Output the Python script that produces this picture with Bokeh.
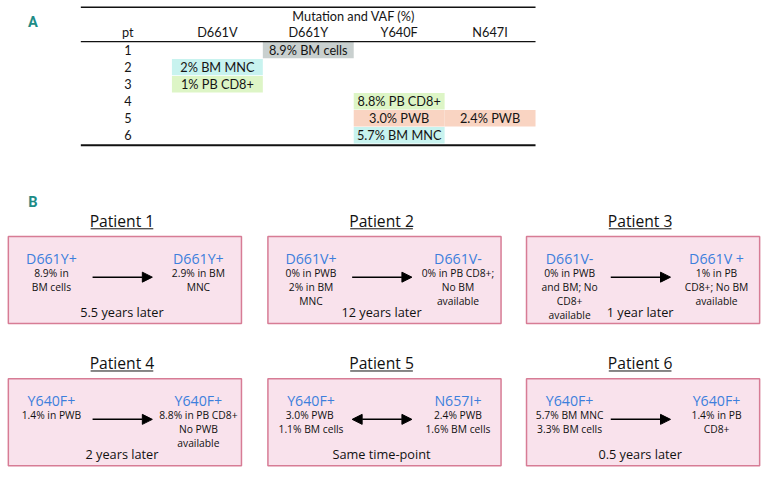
from bokeh.plotting import figure
from bokeh.models import Range1d, ColumnDataSource, Arrow, NormalHead
from bokeh.embed import file_html
from bokeh.resources import INLINE
from bokeh.core.properties import value

# ---------------- Panel A data ----------------
table_title = "Mutation and VAF (%)"
pt_header = "pt"
mutations = ["D661V", "D661Y", "Y640F", "N647I"]
patient_ids = ["1", "2", "3", "4", "5", "6"]
cell_pt = [1, 2, 3, 4, 5, 5, 6]
cell_mut = ["D661Y", "D661V", "D661V", "Y640F", "Y640F", "N647I", "Y640F"]
cell_text = ["8.9% BM cells", "2% BM MNC", "1% PB CD8+", "8.8% PB CD8+",
             "3.0% PWB", "2.4% PWB", "5.7% BM MNC"]
cell_sample = ["BM cells", "BM MNC", "PB CD8+", "PB CD8+", "PWB", "PWB", "BM MNC"]

# ---------------- Panel B data ----------------
panel_titles = ["Patient 1", "Patient 2", "Patient 3", "Patient 4", "Patient 5", "Patient 6"]
before_mut = ["D661Y+", "D661V+", "D661V-", "Y640F+", "Y640F+", "Y640F+"]
before_detail = [["8.9% in", "BM cells"],
                 ["0% in PWB", "2% in BM", "MNC"],
                 ["0% in PWB", "and BM; No", "CD8+", "available"],
                 ["1.4% in PWB"],
                 ["3.0%  PWB", "1.1% BM cells"],
                 ["5.7% BM MNC", "3.3% BM cells"]]
after_mut = ["D661Y+", "D661V-", "D661V +", "Y640F+", "N657I+", "Y640F+"]
after_detail = [["2.9% in BM", "MNC"],
                ["0% in PB CD8+;", "No BM", "available"],
                ["1% in PB", "CD8+; No BM", "available"],
                ["8.8% in PB CD8+", "No PWB", "available"],
                ["2.4% PWB", "1.6% BM cells"],
                ["1.4% in PB", "CD8+"]]
interval = ["5.5 years later", "12 years later", "1 year later",
            "2 years later", "Same time-point", "0.5 years later"]
bidirectional = [False, False, False, False, True, False]

# ---------------- styles ----------------
sample_colors = {"BM cells": "#c9d0cf", "BM MNC": "#c8f3ef",
                 "PB CD8+": "#ddf5c6", "PWB": "#f9d4c2"}
TEAL = "#1e8c86"
BLUE = "#3d7fdc"
BOX_FILL = "#f9e2ec"
BOX_LINE = "#d77c95"

W, H = 766, 474
REF_W, REF_H = 782, 490
S = W / REF_W

def fs(px):
    return f"{px * S:.2f}px"

p = figure(width=W, height=H, x_range=Range1d(0, REF_W), y_range=Range1d(REF_H, 0),
           output_backend="svg", toolbar_location=None, min_border=0)
p.axis.visible = False
p.grid.visible = False
p.outline_line_color = None
p.background_fill_color = "white"

# ---------------- Panel A layout ----------------
tab_x0 = 82
col_pt = 130
col_x0 = 175
col_w = 92.8
row_y0 = 42.5
row_h = 17.6
mut_index = {m: i for i, m in enumerate(mutations)}

def col_center(m):
    return col_x0 + col_w * (mut_index[m] + 0.5)

tab_x1 = col_x0 + col_w * len(mutations)

cx = [col_center(m) for m in cell_mut]
cy = [row_y0 + row_h * (k - 0.5) for k in cell_pt]
cells = ColumnDataSource(dict(x=cx, y=cy, text=cell_text,
                              color=[sample_colors[s] for s in cell_sample]))
p.rect(x="x", y="y", width=col_w, height=row_h - 0.6, fill_color="color",
       line_color=None, source=cells)

tfont = value("Lato")
TFS = fs(13)
TCOL = "#151515"
p.text(x="x", y="y", text="text", source=cells, text_align="center",
       text_baseline="middle", text_font=tfont, text_font_size=TFS, text_color=TCOL)

p.text(x=[(col_x0 + tab_x1) / 2], y=[16], text=[table_title], text_align="center",
       text_baseline="middle", text_font=tfont, text_font_size=TFS, text_color=TCOL)
p.text(x=[col_pt] + [col_center(m) for m in mutations], y=[33] * (len(mutations) + 1),
       text=[pt_header] + mutations, text_align="center", text_baseline="middle",
       text_font=tfont, text_font_size=TFS, text_color=TCOL)
p.text(x=[col_pt] * len(patient_ids),
       y=[row_y0 + row_h * (i + 0.5) for i in range(len(patient_ids))],
       text=patient_ids, text_align="center", text_baseline="middle",
       text_font=tfont, text_font_size=TFS, text_color=TCOL)

p.segment(x0=[tab_x0, tab_x0], x1=[tab_x1, tab_x1], y0=[7, row_y0], y1=[7, row_y0],
          line_color="#111111", line_width=1.3)
p.segment(x0=[tab_x0], x1=[tab_x1], y0=[row_y0 + row_h * len(patient_ids) + 1.5],
          y1=[row_y0 + row_h * len(patient_ids) + 1.5], line_color="#111111", line_width=2)

p.text(x=[33, 33], y=[22, 208], text=["A", "B"], text_align="center", text_baseline="middle",
       text_font=value("Roboto"), text_font_style="bold", text_font_size=fs(15),
       text_color=TEAL)

# ---------------- Panel B layout ----------------
box_xs = [8, 273, 537]
box_ys = [244, 391]
box_w, box_h = 238, 90
bfont = value("Open Sans")

for i in range(len(panel_titles)):
    bx = box_xs[i % 3]
    by = box_ys[i // 3]
    p.rect(x=[bx + box_w / 2], y=[by + box_h / 2], width=box_w, height=box_h,
           fill_color=BOX_FILL, line_color=BOX_LINE, line_width=1.5)
    tx = bx + box_w / 2 - 3
    p.text(x=[tx], y=[by - 16], text=[panel_titles[i]], text_align="center",
           text_baseline="middle", text_font=bfont, text_font_size=fs(16),
           text_color="#111111")
    p.segment(x0=[tx - 32], x1=[tx + 32], y0=[by - 8], y1=[by - 8],
              line_color="#111111", line_width=1)
    lx, rx = bx + 44, bx + 194
    p.text(x=[lx, rx], y=[by + 23, by + 23], text=[before_mut[i], after_mut[i]],
           text_align="center", text_baseline="middle", text_font=bfont,
           text_font_size=fs(14.5), text_color=BLUE)
    for xs, lines in ((lx, before_detail[i]), (rx, after_detail[i])):
        p.text(x=[xs] * len(lines), y=[by + 38 + 14.4 * j for j in range(len(lines))],
               text=lines, text_align="center", text_baseline="middle", text_font=bfont,
               text_font_size=fs(10.5), text_color="#111111")
    p.text(x=[bx + 116], y=[by + 78], text=[interval[i]], text_align="center",
           text_baseline="middle", text_font=bfont, text_font_size=fs(13),
           text_color="#111111")
    ay = by + 42
    head = NormalHead(size=10, fill_color="black", line_color="black")
    start = NormalHead(size=10, fill_color="black", line_color="black") if bidirectional[i] else None
    p.add_layout(Arrow(end=head, start=start, x_start=bx + 86, x_end=bx + 147,
                       y_start=ay, y_end=ay, line_color="black", line_width=1.5))

open("out.html", "w").write(file_html(p, INLINE))
